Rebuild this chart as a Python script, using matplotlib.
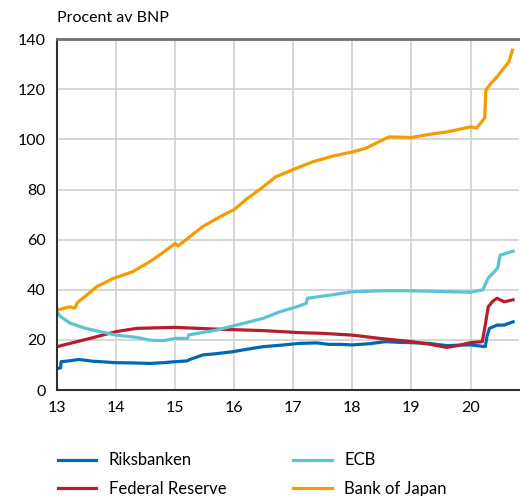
import matplotlib
matplotlib.use("Agg")
import matplotlib.pyplot as plt

plt.rcParams['font.family'] = ['Lato', 'DejaVu Sans']

# year (13 = 2013) and percent of GDP
riks_t = [13.0, 13.06, 13.07, 13.2, 13.37, 13.6, 14.0, 14.3, 14.57, 14.8, 15.0, 15.2, 15.25,
          15.47, 15.7, 15.98, 16.2, 16.49, 16.8, 17.1, 17.4, 17.6, 17.8, 18.0, 18.3, 18.56,
          18.8, 19.0, 19.3, 19.6, 19.8, 20.0, 20.15, 20.25, 20.28, 20.32, 20.45, 20.57, 20.72]
riks_v = [8.6, 8.8, 11.3, 11.6, 12.2, 11.5, 10.9, 10.8, 10.6, 10.9, 11.3, 11.6, 12.2,
          14.0, 14.5, 15.3, 16.2, 17.3, 17.9, 18.6, 18.8, 18.2, 18.2, 18.0, 18.5, 19.3,
          19.0, 18.9, 18.6, 17.7, 17.9, 18.0, 17.6, 17.3, 21.5, 24.6, 25.9, 25.9, 27.2]

fed_t = [13.0, 13.56, 14.0, 14.35, 15.0, 15.7, 16.49, 17.1, 17.5, 18.0, 18.5, 19.0, 19.3,
         19.6, 19.8, 20.0, 20.2, 20.25, 20.3, 20.38, 20.45, 20.57, 20.72]
fed_v = [17.3, 20.6, 23.3, 24.6, 25.0, 24.3, 23.7, 22.9, 22.6, 21.9, 20.5, 19.3, 18.3,
         17.0, 17.8, 18.9, 19.3, 26.0, 33.2, 35.5, 36.6, 35.2, 36.0]

ecb_t = [13.0, 13.05, 13.22, 13.47, 13.73, 14.0, 14.35, 14.57, 14.8, 15.0, 15.21, 15.23,
         15.7, 16.04, 16.49, 16.77, 17.1, 17.22, 17.24, 17.6, 18.0, 18.5, 19.0, 19.5, 20.0,
         20.21, 20.3, 20.46, 20.5, 20.72]
ecb_v = [31.2, 29.5, 26.7, 24.7, 23.3, 21.9, 21.0, 19.9, 19.7, 20.6, 20.6, 22.0,
         23.9, 25.9, 28.6, 31.2, 33.5, 34.6, 36.6, 37.8, 39.2, 39.6, 39.6, 39.3, 39.0,
         40.0, 44.7, 48.6, 53.8, 55.4]

boj_t = [13.0, 13.22, 13.3, 13.35, 13.47, 13.67, 13.95, 14.28, 14.57, 14.74, 15.0, 15.05,
         15.46, 15.74, 16.0, 16.22, 16.42, 16.7, 17.0, 17.32, 17.66, 18.0, 18.22, 18.62,
         19.0, 19.3, 19.6, 20.0, 20.1, 20.24, 20.26, 20.35, 20.45, 20.55, 20.65, 20.71]
boj_v = [31.9, 33.2, 32.6, 35.0, 37.2, 41.2, 44.5, 47.2, 51.2, 53.9, 58.5, 57.5,
         65.1, 68.9, 72.0, 76.4, 79.8, 85.0, 88.0, 91.0, 93.3, 95.0, 96.4, 101.0,
         100.8, 102.0, 103.0, 105.0, 104.5, 108.5, 119.7, 122.5, 125.0, 128.0, 131.0, 135.6]

years = [13, 14, 15, 16, 17, 18, 19, 20]

fig = plt.figure(figsize=(5.2, 4.96), dpi=100)
ax = fig.add_axes([0.1096, 0.2137, 0.8884, 0.7073])

lw = 2.3
ax.plot(riks_t, riks_v, color='#0069b4', lw=lw, label='Riksbanken')
ax.plot(fed_t, fed_v, color='#b51e2d', lw=lw, label='Federal Reserve')
ax.plot(ecb_t, ecb_v, color='#5bc3d3', lw=lw, label='ECB')
ax.plot(boj_t, boj_v, color='#f59c00', lw=lw, label='Bank of Japan')

ax.set_xlim(13, 20.82)
ax.set_ylim(0, 140)
ax.set_xticks(years)
ax.set_xticklabels([str(y) for y in years])
ax.set_yticks(range(0, 141, 20))
ax.grid(True, color='#d0d0d0', lw=1.2)
ax.set_axisbelow(True)
ax.tick_params(length=0, labelsize=11.5, pad=8)

ax.spines['right'].set_visible(False)
ax.spines['top'].set_color('#707070')
ax.spines['top'].set_linewidth(2)
ax.spines['left'].set_linewidth(1.5)
ax.spines['bottom'].set_linewidth(1.5)
ax.spines['bottom'].set_color('#303030')
ax.spines['left'].set_color('#303030')

fig.text(0.1096, 0.963, 'Procent av BNP', fontsize=11.5, va='center', ha='left')

handles, labels = ax.get_legend_handles_labels()
fig.legend(handles, labels, ncol=2,
           loc='lower left', bbox_to_anchor=(0.083, -0.032), frameon=False,
           fontsize=12, handlelength=2.3, columnspacing=4.0, handletextpad=0.75,
           labelspacing=0.75)

fig.savefig('out.png', dpi=100)
